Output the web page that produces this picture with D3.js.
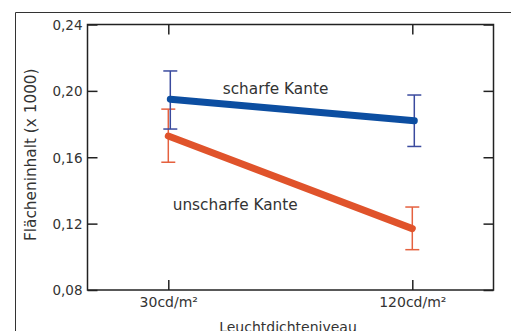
<!DOCTYPE html>
<html>
<head>
<meta charset="utf-8">
<script src="https://cdn.jsdelivr.net/npm/d3@7"></script>
<style>
  body { margin: 0; background: #fff; }
  svg { display: block; font-family: "DejaVu Sans", Verdana, sans-serif; }
</style>
</head>
<body>
<div id="chart"></div>
<script>
// data
const levels = ["30cd/m²", "120cd/m²"];
const yTicks = [0.08, 0.12, 0.16, 0.20, 0.24];
const scharfMean = [0.195, 0.182];
const scharfLow = [0.177, 0.1665];
const scharfHigh = [0.212, 0.1975];
const unscharfMean = [0.1728, 0.117];
const unscharfLow = [0.157, 0.1043];
const unscharfHigh = [0.189, 0.130];

const W = 511, H = 331;
const margin = { top: 24.5, right: 17.5, bottom: 41, left: 87.5 };
const width = W - margin.left - margin.right;
const height = H - margin.top - margin.bottom;

const svg = d3.select("#chart").append("svg")
    .attr("width", W).attr("height", H);

// outer frame (only top and left visible)
svg.append("path")
    .attr("d", "M15.5," + H + "V12.5H" + W)
    .attr("fill", "none").attr("stroke", "#333").attr("stroke-width", 1);

const g = svg.append("g")
    .attr("transform", "translate(" + margin.left + "," + margin.top + ")");

// category positions as index -> pixel
const xPos = d3.scaleLinear().domain([0, 1]).range([80.8, 324.8]);
const xs = d3.scaleOrdinal().domain(levels).range([xPos(0), xPos(1)]);
const y = d3.scaleLinear().domain([0.08, 0.24]).range([height, 0]);

const fmt = d => d3.format(".2f")(d).replace(".", ",");

// axes, ticks inward; drop d3's default font attrs so the svg font applies
const axisStyle = (sel, size) => {
    sel.attr("font-family", null).attr("font-size", null);
    sel.select(".domain").remove();
    sel.selectAll("line").attr("stroke", "#222").attr("stroke-width", 1.5);
    sel.selectAll("text").attr("fill", "#333").style("font-size", size);
};

g.append("g").attr("transform", "translate(0," + height + ")")
    .call(d3.axisBottom(xs).tickSizeInner(-10).tickSizeOuter(0))
    .call(axisStyle, "14px")
    .selectAll("text").attr("y", 16.7).attr("dy", 0);
g.append("g")
    .call(d3.axisTop(xs).tickSizeInner(-10).tickSizeOuter(0).tickFormat(""))
    .call(axisStyle, "14px");
g.append("g")
    .call(d3.axisLeft(y).tickValues(yTicks).tickFormat(fmt).tickSizeInner(-10).tickSizeOuter(0).tickPadding(5))
    .call(axisStyle, "13.5px")
    .selectAll("text").attr("dy", "0.36em");
g.append("g").attr("transform", "translate(" + width + ",0)")
    .call(d3.axisRight(y).tickValues(yTicks).tickSizeInner(-10).tickSizeOuter(0).tickFormat(""))
    .call(axisStyle, "14px");

g.append("rect")
    .attr("width", width).attr("height", height)
    .attr("fill", "none").attr("stroke", "#222").attr("stroke-width", 1.5);

// series
const series = [
    { mean: unscharfMean, low: unscharfLow, high: unscharfHigh, line: "#e0532b", err: "#e5613f", dx: 0 },
    { mean: scharfMean, low: scharfLow, high: scharfHigh, line: "#0c4ea1", err: "#3a4a9e", dx: 2 }
];

series.forEach(s => {
    const pts = s.mean.map((v, i) => [xPos(i) + s.dx, y(v)]);
    s.mean.forEach((v, i) => {
        const cx = xPos(i) + s.dx;
        const eb = g.append("g").attr("stroke", s.err).attr("stroke-width", 1.5);
        eb.append("line").attr("x1", cx).attr("x2", cx).attr("y1", y(s.low[i])).attr("y2", y(s.high[i]));
        eb.append("line").attr("x1", cx - 7).attr("x2", cx + 7).attr("y1", y(s.low[i])).attr("y2", y(s.low[i]));
        eb.append("line").attr("x1", cx - 7).attr("x2", cx + 7).attr("y1", y(s.high[i])).attr("y2", y(s.high[i]));
    });
    g.append("path")
        .datum(pts)
        .attr("fill", "none")
        .attr("stroke", s.line)
        .attr("stroke-width", 7)
        .attr("stroke-linecap", "round")
        .attr("d", d3.line());
});

// labels
g.append("text").attr("x", 222.7 - margin.left).attr("y", 94 - margin.top)
    .attr("fill", "#333").style("font-size", "15.3px").text("scharfe Kante");
g.append("text").attr("x", 172.7 - margin.left).attr("y", 209.5 - margin.top)
    .attr("fill", "#333").style("font-size", "15.3px").text("unscharfe Kante");

svg.append("text")
    .attr("x", 288).attr("y", 331.5)
    .attr("text-anchor", "middle").attr("fill", "#333").style("font-size", "14px")
    .text("Leuchtdichteniveau");
svg.append("text")
    .attr("transform", "translate(35.5,154.7) rotate(-90)")
    .attr("text-anchor", "middle").attr("fill", "#333").style("font-size", "15.3px")
    .text("Flächeninhalt (x 1000)");
</script>
</body>
</html>
